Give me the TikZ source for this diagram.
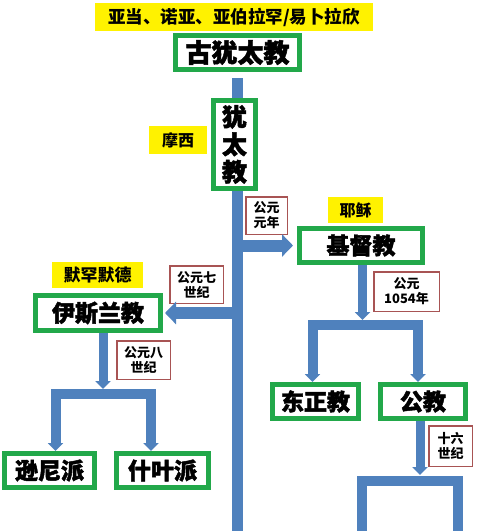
\documentclass[tikz,border=0pt]{standalone}
\usepackage{fontspec}
\newfontfamily\cjk{Noto Sans CJK SC}
\newfontfamily\cjkheavy[BoldFeatures={FakeBold=2}]{Noto Sans CJK SC}
\usetikzlibrary{arrows.meta}
\definecolor{trunkblue}{RGB}{79,129,189}
\definecolor{faithgreen}{RGB}{34,168,74}
\definecolor{whenred}{RGB}{168,84,84}
\begin{document}
\begin{tikzpicture}[x=1pt,y=1pt,
        every node/.style={inner sep=0pt,align=center},
        faith/.style={draw=faithgreen,line width=5pt,fill=white,font=\cjkheavy\bfseries\fontsize{23}{28}\selectfont},
        who/.style={fill=yellow,font=\cjk\bfseries\fontsize{16}{18}\selectfont},
        when/.style={draw=whenred,line width=1.5pt,fill=white,font=\cjk\bfseries\fontsize{13}{15}\selectfont},
        trunk/.style={draw=trunkblue,line width=11pt},
        flow/.style={draw=trunkblue,line width=12pt,-{Triangle[width=22pt,length=11pt]}},
        stem/.style={draw=trunkblue,line width=9pt,-{Triangle[width=15pt,length=8pt]}},
        fork/.style={draw=trunkblue,line width=10pt,{Triangle[width=15pt,length=8pt]}-{Triangle[width=15pt,length=8pt]}},
        bar/.style={draw=trunkblue,line width=10pt}]
        \useasboundingbox (0,0) rectangle (500,-531);
        \fill [white] (0,0) rectangle (500,-531);
        \node [who,minimum width=278pt,minimum height=28pt,font=\cjk\bfseries\fontsize{17.5}{20}\selectfont] (adam) at (234,-17) {亚当、诺亚、亚伯拉罕/易卜拉欣};
        \node [faith,minimum width=124pt,minimum height=34pt,font=\cjkheavy\bfseries\fontsize{26}{28}\selectfont] (gu) at (237.5,-52.5) {古犹太教};
        \node [faith,minimum width=42pt,minimum height=88pt,font=\cjkheavy\bfseries\fontsize{25}{27.5}\selectfont] (yt) at (234.5,-144.5) {犹\\太\\教};
        \node [who,minimum width=58pt,minimum height=28pt] (moses) at (178,-140) {摩西};
        \node [when,minimum width=41.5pt,minimum height=37.5pt] (ad) at (266.5,-215.5) {公元\\元年};
        \node [who,minimum width=55pt,minimum height=26pt] (jesus) at (355.5,-210) {耶稣};
        \node [faith,minimum width=123pt,minimum height=34pt] (jd) at (361,-245.5) {基督教};
        \node [who,minimum width=91pt,minimum height=26pt,font=\cjk\bfseries\fontsize{17}{19}\selectfont] (muh) at (97.5,-275) {默罕默德};
        \node [when,minimum width=53.5pt,minimum height=37.5pt] (c7) at (196.5,-284.5) {公元七\\世纪};
        \node [faith,minimum width=125pt,minimum height=35pt] (ys) at (98,-313) {伊斯兰教};
        \node [when,minimum width=53.5pt,minimum height=38.5pt] (c8) at (143.5,-360) {公元八\\世纪};
        \node [faith,minimum width=90pt,minimum height=34pt] (sn) at (49.5,-470.5) {逊尼派};
        \node [faith,minimum width=92pt,minimum height=34pt] (sy) at (162.5,-470.5) {什叶派};
        \node [when,minimum width=65.5pt,minimum height=39.5pt] (y1054) at (406.5,-291.5) {公元\\1054年};
        \node [faith,minimum width=86pt,minimum height=34pt] (dz) at (315.5,-401.5) {东正教};
        \node [faith,minimum width=85pt,minimum height=34pt] (gj) at (423,-401.5) {公教};
        \node [when,minimum width=43.5pt,minimum height=40.5pt] (c16) at (450.5,-446) {十六\\世纪};
        \coordinate (base) at (237.5,-531);
        \draw [trunk] ([yshift=-6pt]gu.south) -- (gu.south |- yt.north);
        \draw [trunk] (gu.south |- yt.south) -- (base);
        \draw [flow,shorten >=4pt] (base |- jd.west) -- (jd.west);
        \draw [flow,shorten >=2pt] (base |- ys.east) -- (ys.east);
        \coordinate (k1) at (103,-394);
        \draw [stem,shorten >=5pt] (ys.south -| k1) -- (k1);
        \draw [fork] ([xshift=6pt]sn.north) |- (k1) -| ([xshift=-11.5pt]sy.north);
        \coordinate (k2) at (362.5,-325);
        \draw [stem,shorten >=5pt] (jd.south -| k2) -- (k2);
        \draw [fork] ([xshift=-3pt]dz.north) |- (k2) -| ([xshift=-5pt]gj.north);
        \coordinate (k3) at (420,-481);
        \coordinate (b1) at (361.5,-531);
        \coordinate (b2) at (457.5,-531);
        \draw [stem,shorten >=6pt] (gj.south -| k3) -- (k3);
        \draw [bar] (b1) |- (k3) -| (b2);
    \end{tikzpicture}
\end{document}
